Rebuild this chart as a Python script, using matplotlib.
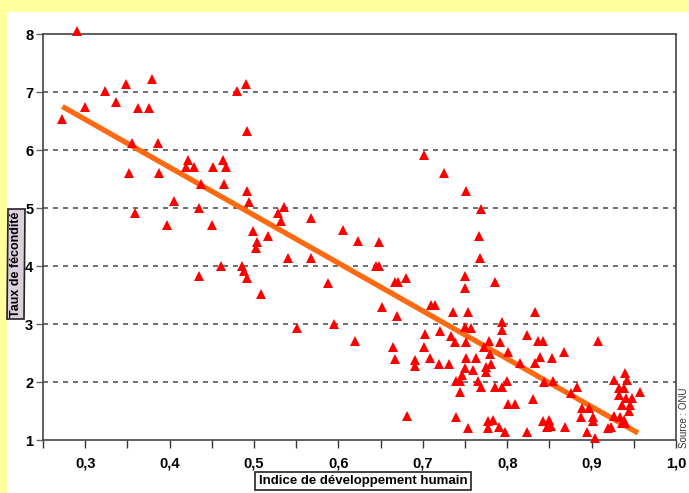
import numpy as np
import matplotlib.pyplot as plt
from matplotlib.patches import Rectangle

# Indice de développement humain (x) et taux de fécondité (y)
idh = [0.290, 0.272, 0.300, 0.323, 0.336, 0.348, 0.363, 0.376, 0.379, 0.480,
       0.491, 0.492, 0.356, 0.386, 0.352, 0.387, 0.422, 0.419, 0.429, 0.452,
       0.463, 0.467, 0.437, 0.464, 0.492, 0.494, 0.405, 0.435, 0.359, 0.397,
       0.450,
       0.528, 0.535, 0.532, 0.567, 0.499, 0.517, 0.503, 0.502, 0.606, 0.623,
       0.648, 0.540, 0.568, 0.461, 0.486, 0.488, 0.492, 0.435, 0.644, 0.648,
       0.508, 0.588, 0.652, 0.667, 0.671, 0.680, 0.670, 0.551, 0.595, 0.620,
       0.665, 0.667, 0.691, 0.691, 0.703, 0.701, 0.681,
       0.702, 0.725, 0.751, 0.769, 0.767, 0.768, 0.750, 0.750, 0.786, 0.710,
       0.715, 0.736, 0.753, 0.833, 0.720, 0.750, 0.757, 0.734, 0.738, 0.751,
       0.778, 0.791, 0.794, 0.794, 0.824, 0.837, 0.843, 0.773, 0.780, 0.801,
       0.708, 0.719, 0.731, 0.751, 0.763, 0.750, 0.759, 0.746, 0.775, 0.781,
       0.775, 0.815, 0.833, 0.839, 0.739, 0.744, 0.765, 0.769, 0.744, 0.785,
       0.794, 0.800, 0.844, 0.801, 0.809, 0.831, 0.739, 0.754, 0.777, 0.783,
       0.777, 0.790, 0.797, 0.823, 0.842, 0.847,
       0.908, 0.853, 0.867, 0.854, 0.883, 0.875, 0.850, 0.852, 0.869, 0.889,
       0.897, 0.888, 0.902, 0.902, 0.895, 0.904, 0.919, 0.923, 0.926, 0.927,
       0.940, 0.942, 0.932, 0.938, 0.932, 0.941, 0.948, 0.936, 0.946, 0.944,
       0.957, 0.934, 0.938, 0.936, 0.940]
fecondite = [8.05, 6.53, 6.74, 7.02, 6.83, 7.14, 6.73, 6.73, 7.23, 7.02,
             7.14, 6.32, 6.12, 6.12, 5.61, 5.61, 5.83, 5.71, 5.71, 5.71,
             5.83, 5.71, 5.42, 5.42, 5.30, 5.11, 5.12, 5.00, 4.92, 4.71,
             4.71,
             4.91, 5.01, 4.78, 4.82, 4.61, 4.51, 4.42, 4.31, 4.62, 4.43,
             4.42, 4.13, 4.13, 4.00, 4.00, 3.91, 3.80, 3.82, 4.00, 4.00,
             3.51, 3.71, 3.30, 3.72, 3.72, 3.80, 3.14, 2.93, 3.00, 2.71,
             2.61, 2.39, 2.38, 2.28, 2.82, 2.61, 1.41,
             5.91, 5.61, 5.30, 4.99, 4.51, 4.13, 3.82, 3.62, 3.72, 3.32,
             3.32, 3.20, 3.20, 3.20, 2.88, 2.94, 2.93, 2.80, 2.69, 2.69,
             2.71, 2.69, 3.04, 2.90, 2.81, 2.71, 2.71, 2.60, 2.49, 2.52,
             2.41, 2.31, 2.31, 2.41, 2.41, 2.24, 2.21, 2.12, 2.26, 2.31,
             2.17, 2.33, 2.33, 2.43, 2.01, 2.01, 2.02, 1.91, 1.82, 1.92,
             1.92, 2.02, 2.00, 1.62, 1.62, 1.71, 1.40, 1.20, 1.32, 1.34,
             1.20, 1.23, 1.13, 1.13, 1.32, 1.23,
             2.71, 2.41, 2.52, 2.02, 1.91, 1.81, 1.34, 1.24, 1.23, 1.55,
             1.55, 1.40, 1.40, 1.32, 1.14, 1.03, 1.20, 1.22, 1.41, 2.03,
             2.15, 2.03, 1.89, 1.89, 1.78, 1.72, 1.72, 1.60, 1.60, 1.50,
             1.83, 1.40, 1.34, 1.29, 1.30]

# droite de tendance (extrémités)
tendance_x = [0.273, 0.955]
tendance_y = [6.75, 1.12]

x_ticks = np.arange(0.25, 1.001, 0.05)
x_labels = ["0,3", "0,4", "0,5", "0,6", "0,7", "0,8", "0,9", "1,0"]
y_ticks = [1, 2, 3, 4, 5, 6, 7, 8]

font = ["Liberation Sans", "DejaVu Sans"]

fig = plt.figure(figsize=(6.89, 4.93), dpi=100)
fig.patch.set_facecolor("#FFFF9E")
fig.patches.append(Rectangle((7 / 689, 0), 1, 481 / 493, transform=fig.transFigure,
                             facecolor="white", edgecolor="none", zorder=-10))

ax = fig.add_axes([43 / 689, 53 / 493, 633 / 689, 406 / 493])
ax.set_facecolor("white")

for y in y_ticks[1:-1]:
    ax.axhline(y, color="#555555", linestyle=(0, (3, 3)), linewidth=1.2, zorder=1)

ax.plot(tendance_x, tendance_y, color="#FF6A10", linewidth=3.8, solid_capstyle="butt", zorder=2)
ax.plot(idh, fecondite, linestyle="none", marker="^", markersize=7,
        color="#FF0000", markeredgewidth=0, zorder=3, clip_on=False)

ax.set_xlim(0.25, 1.0)
ax.set_ylim(1, 8)
# une graduation tous les 0,05, étiquette tous les 0,1
tick_text = [""] + [v for lab in x_labels for v in (lab, "")][:-1]
ax.set_xticks(x_ticks)
ax.set_xticklabels(tick_text)
ax.tick_params(axis="x", length=6, width=1, color="#333333", direction="out", pad=6)
ax.tick_params(axis="y", length=5, width=1, color="#666666", pad=2)
ax.set_yticks(y_ticks)
for lab in ax.get_xticklabels() + ax.get_yticklabels():
    lab.set_fontfamily(font)
    lab.set_fontweight("bold")
    lab.set_fontsize(10.5)

for s in ax.spines.values():
    s.set_color("#444444")
    s.set_linewidth(1.2)

fig.text(363 / 689, 12 / 493, "Indice de développement humain", ha="center", va="center",
         fontsize=9.5, fontweight="bold", family=font,
         bbox=dict(boxstyle="square,pad=0.25", facecolor="white", edgecolor="#222222", linewidth=1.2))
fig.text(16 / 689, 229 / 493, "Taux de fécondité", ha="center", va="center", rotation=90,
         fontsize=9, fontweight="bold", family=font,
         bbox=dict(boxstyle="square,pad=0.2", facecolor="#DCCFE0", edgecolor="#222222", linewidth=1.2))
fig.text(684 / 689, 75 / 493, "Source : ONU", ha="center", va="center", rotation=90,
         fontsize=7, color="#333333", family=font)

plt.savefig("out.png", dpi=100)
